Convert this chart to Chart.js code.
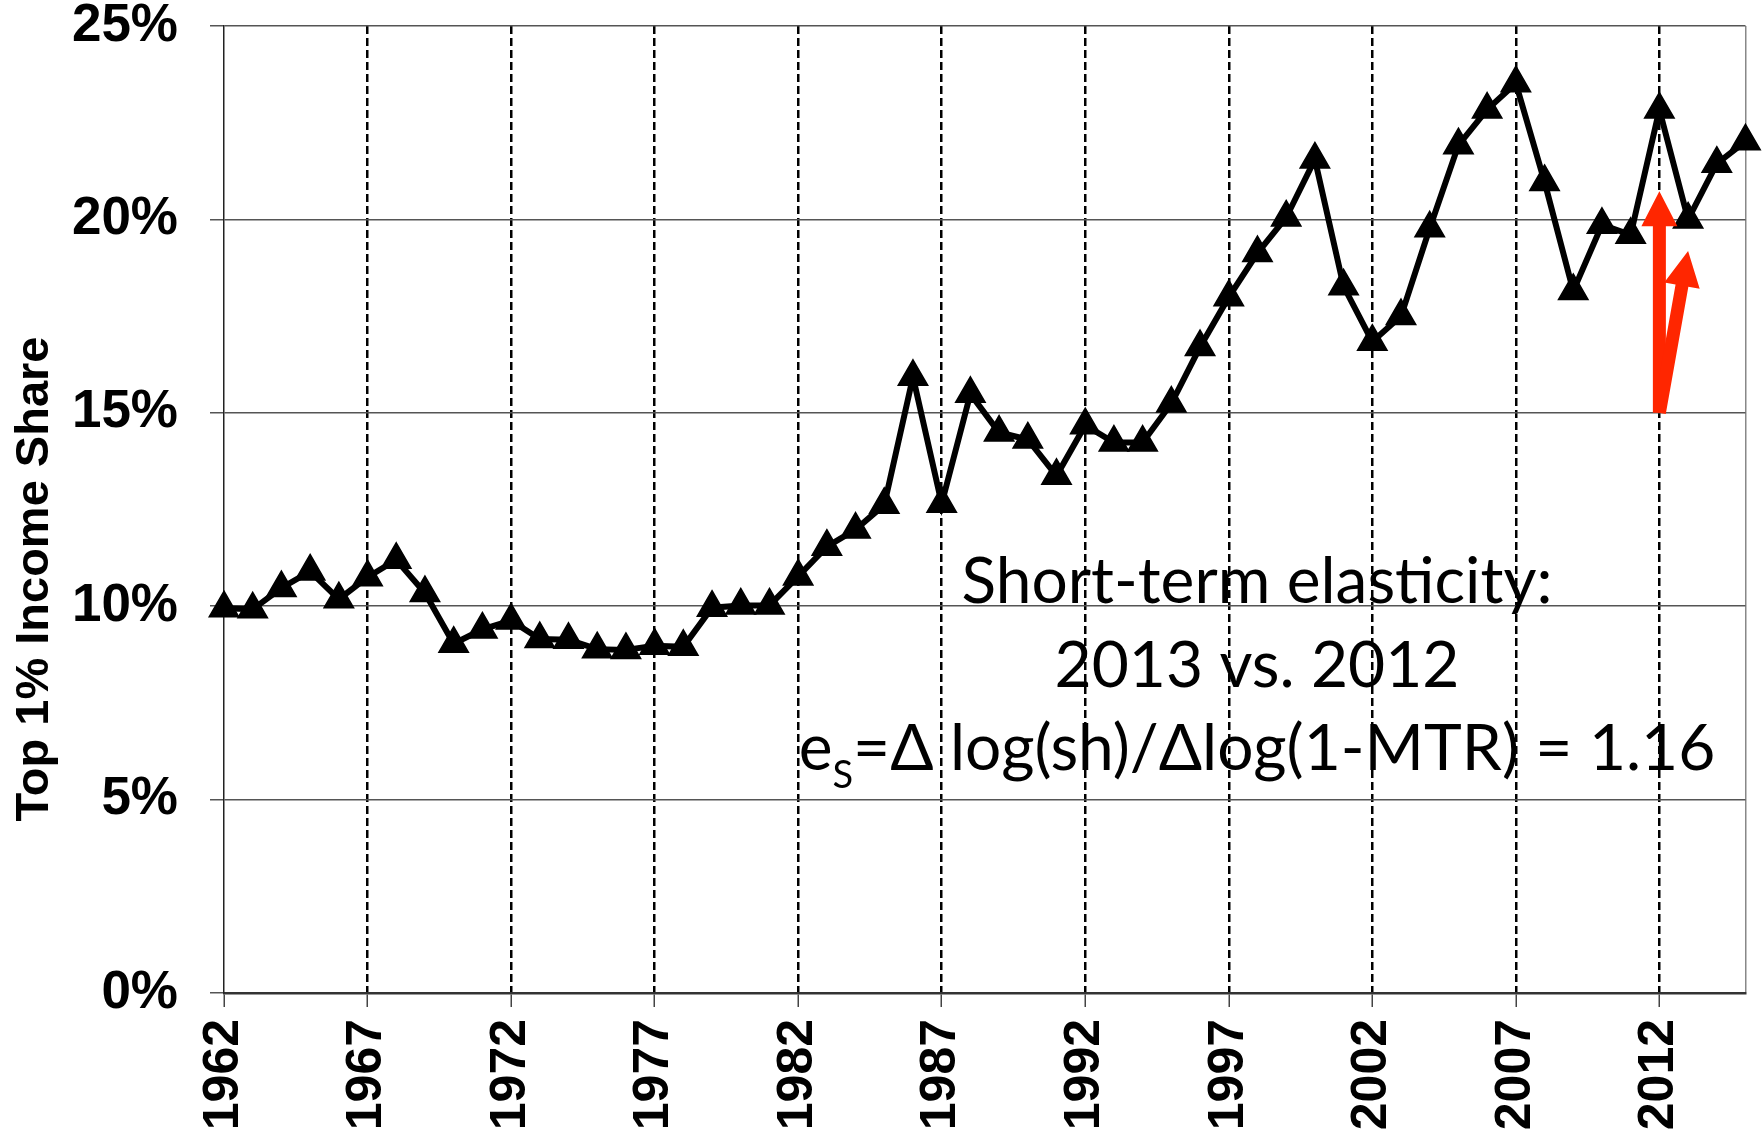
<!DOCTYPE html>
<html>
<head>
<meta charset="utf-8">
<script src="https://cdn.jsdelivr.net/npm/chart.js@4.4.0/dist/chart.umd.min.js"></script>
<style>
  body { margin: 0; background: #fff; }
  canvas { display: block; }
</style>
</head>
<body>
<canvas id="myChart" width="1764" height="1130"></canvas>
<script>
const years = [
  1962, 1963, 1964, 1965, 1966, 1967, 1968, 1969,
  1970, 1971, 1972, 1973, 1974, 1975, 1976, 1977, 1978, 1979,
  1980, 1981, 1982, 1983, 1984, 1985, 1986, 1987, 1988, 1989,
  1990, 1991, 1992, 1993, 1994, 1995, 1996, 1997, 1998, 1999,
  2000, 2001, 2002, 2003, 2004, 2005, 2006, 2007, 2008, 2009,
  2010, 2011, 2012, 2013, 2014, 2015
];
const topShare = [
  9.95, 9.92, 10.47, 10.9, 10.18, 10.75, 11.2, 10.34,
  9.03, 9.4, 9.63, 9.15, 9.13, 8.89, 8.87, 8.98, 8.95, 9.96,
  10.02, 10.02, 10.77, 11.54, 11.98, 12.62, 15.93, 12.65, 15.49, 14.49,
  14.31, 13.37, 14.68, 14.23, 14.23, 15.24, 16.7, 17.99, 19.13, 20.05,
  21.55, 18.27, 16.84, 17.5, 19.77, 21.92, 22.84, 23.52, 20.97, 18.15,
  19.86, 19.6, 22.84, 20.0, 21.44, 22.02
];
const yTicks = [0, 5, 10, 15, 20, 25];
const labelYears = [1962, 1967, 1972, 1977, 1982, 1987, 1992, 1997, 2002, 2007, 2012];

// red arrows: start and tips, in (year, share %)
const arrowStart = [2012, 15];
const arrowTips = [[2012, 20.73], [2013, 19.18]];

const yTitle = "Top 1% Income Share";
const noteLines = ["Short-term elasticity:", "2013 vs. 2012"];
const noteFormula = ["e", "S", "=\u0394 log(sh)/\u0394log(1-MTR) = 1.16"];

const FONT = "'Liberation Sans', Arial, sans-serif";
const NOTE_FONT = "Lato, 'Open Sans', sans-serif";
const RED = "#ff2600";

const drawArrow = (ctx, x0, y0, x1, y1, shaft, headW, headL) => {
  const dx = x1 - x0, dy = y1 - y0;
  const len = Math.hypot(dx, dy);
  const ux = dx / len, uy = dy / len;
  const nx = -uy, ny = ux;
  const bx = x1 - ux * headL, by = y1 - uy * headL;
  ctx.beginPath();
  ctx.moveTo(x0 + nx * shaft / 2, y0 + ny * shaft / 2);
  ctx.lineTo(bx + nx * shaft / 2, by + ny * shaft / 2);
  ctx.lineTo(bx + nx * headW / 2, by + ny * headW / 2);
  ctx.lineTo(x1, y1);
  ctx.lineTo(bx - nx * headW / 2, by - ny * headW / 2);
  ctx.lineTo(bx - nx * shaft / 2, by - ny * shaft / 2);
  ctx.lineTo(x0 - nx * shaft / 2, y0 - ny * shaft / 2);
  ctx.closePath();
  ctx.fill();
};

const extras = {
  id: "extras",
  afterDatasetsDraw(chart) {
    const { ctx, scales: { x, y } } = chart;
    ctx.save();
    ctx.fillStyle = RED;
    const x0 = x.getPixelForValue(arrowStart[0] - years[0]);
    const y0 = y.getPixelForValue(arrowStart[1]);
    arrowTips.forEach(t => {
      drawArrow(ctx, x0, y0, x.getPixelForValue(t[0] - years[0]), y.getPixelForValue(t[1]), 13, 36, 35);
    });
    ctx.restore();
  },
  afterDraw(chart) {
    const { ctx } = chart;
    ctx.save();
    // y axis title
    ctx.fillStyle = "#000";
    ctx.translate(48, 579);
    ctx.rotate(-Math.PI / 2);
    ctx.font = "bold 47px " + FONT;
    ctx.textAlign = "center";
    ctx.textBaseline = "alphabetic";
    ctx.fillText(yTitle, 0, 0);
    ctx.restore();

    // annotation
    ctx.save();
    ctx.fillStyle = "#000";
    ctx.textBaseline = "alphabetic";
    const cx = 1257;
    ctx.font = "64px " + NOTE_FONT;
    ctx.textAlign = "center";
    ctx.fillText(noteLines[0], cx, 603);
    ctx.fillText(noteLines[1], cx, 687);
    ctx.textAlign = "left";
    const mainFont = "64px " + NOTE_FONT, subFont = "38px " + NOTE_FONT;
    ctx.font = mainFont;
    const w0 = ctx.measureText(noteFormula[0]).width;
    const w2 = ctx.measureText(noteFormula[2]).width;
    ctx.font = subFont;
    const w1 = ctx.measureText(noteFormula[1]).width;
    let sx = cx - (w0 + w1 + w2) / 2;
    ctx.font = mainFont;
    ctx.fillText(noteFormula[0], sx, 770);
    sx += w0;
    ctx.font = subFont;
    ctx.fillText(noteFormula[1], sx, 788);
    sx += w1;
    ctx.font = mainFont;
    ctx.fillText(noteFormula[2], sx, 770);
    ctx.restore();
  }
};

const lastIdx = years.length - 1;
const ctx = document.getElementById("myChart");

const chart = new Chart(ctx, {
  type: "line",
  data: {
    labels: years,
    datasets: [
      {
        label: "Top 1% Income Share",
        data: topShare,
        borderColor: "#000",
        borderWidth: 6,
        pointStyle: "triangle",
        pointRadius: 17,
        pointBackgroundColor: "#000",
        pointBorderColor: "#000",
        pointBorderWidth: 1.5,
        tension: 0,
        clip: false,
      },
    ],
  },
  options: {
    responsive: false,
    animation: false,
    layout: { padding: { top: 26, right: 14, left: 0, bottom: 0 } },
    plugins: {
      legend: { display: false },
      tooltip: { enabled: false },
    },
    scales: {
      x: {
        offset: false,
        grid: {
          offset: false,
          color: c => {
            if (c.index === lastIdx) return "#888";
            return c.index > 0 && labelYears.includes(years[c.index]) ? "#000" : "rgba(0,0,0,0)";
          },
          lineWidth: c => (c.index === lastIdx ? 1.5 : 2.5),
          tickColor: c => (labelYears.includes(years[c.index]) ? "#444" : "rgba(0,0,0,0)"),
          tickLength: 14,
          tickWidth: 1.5,
          tickBorderDash: [],
        },
        border: {
          color: "#333",
          width: 2.5,
          dash: c => (c.index === undefined || c.index === lastIdx ? [] : [8, 4]),
        },
        ticks: {
          autoSkip: false,
          maxRotation: 90,
          minRotation: 90,
          padding: 12,
          color: "#000",
          font: { family: FONT, size: 50, weight: "bold" },
          callback: (v, i) => (labelYears.includes(years[i]) ? String(years[i]) : ""),
        },
        afterFit: s => {
          s.height = 137;
          s.paddingLeft = 0;
          s.paddingRight = 0;
        },
      },
      y: {
        min: 0,
        max: 25,
        afterBuildTicks: s => {
          s.ticks = yTicks.map(v => ({ value: v }));
        },
        grid: { color: "#555", lineWidth: 1.5, tickLength: 14, tickColor: "#555" },
        border: { color: "#222", width: 1.5 },
        ticks: {
          padding: 32,
          color: "#000",
          font: { family: FONT, size: 53, weight: "bold" },
          callback: v => v + "%",
        },
        afterFit: s => {
          s.width = 224;
          s.paddingTop = 0;
          s.paddingBottom = 0;
        },
      },
    },
  },
  plugins: [extras],
});
</script>
</body>
</html>
